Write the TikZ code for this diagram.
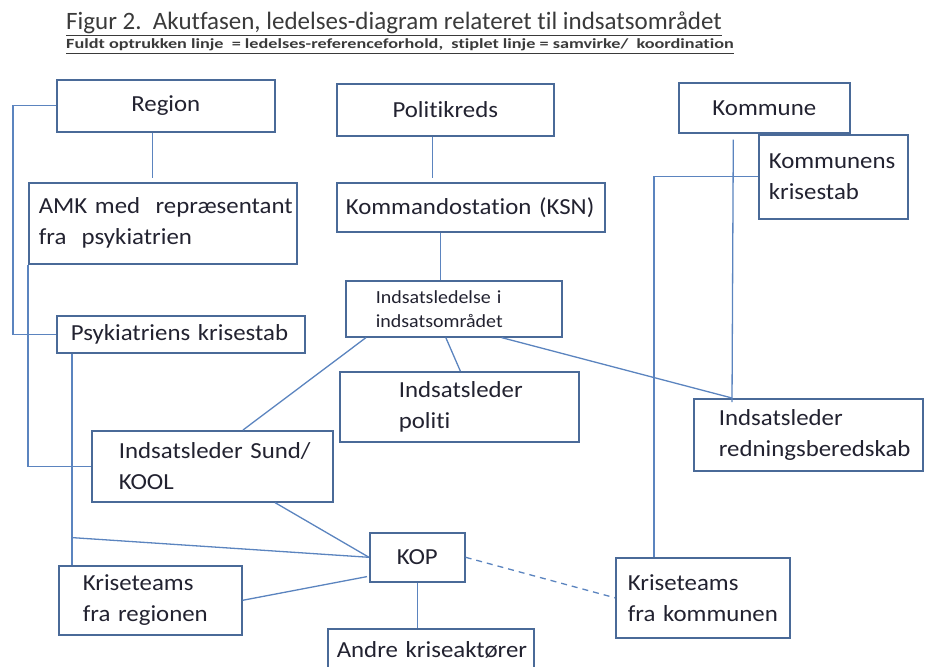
\documentclass[tikz,border=0pt]{standalone}
\usepackage{fontspec}
\setmainfont{Carlito}[FakeStretch=1.08,Ligatures=NoCommon]
\newfontfamily\titlefont{Carlito}[Ligatures=NoCommon]
\newfontfamily\legendfont{Carlito}[FakeStretch=1.3,Ligatures=NoCommon]
\usetikzlibrary{calc,positioning}

\definecolor{boxline}{HTML}{4A6A98}
\definecolor{linkline}{HTML}{5B84BF}
\definecolor{inkcol}{HTML}{222230}
\definecolor{titlecol}{HTML}{3A3A3A}

\begin{document}
\hyphenpenalty=10000 \exhyphenpenalty=10000 \hbadness=10000 \hfuzz=200pt
\begin{tikzpicture}[x=1pt,y=-1pt,
  box/.style={draw=boxline,line width=1.6pt,rectangle,anchor=north west,
    inner ysep=0pt,text=inkcol,font=\fontsize{23}{31}\selectfont},
  cbox/.style={box,inner xsep=0pt,align=center},
  lbox/.style={box,align=left},
  link/.style={draw=linkline,line width=1.3pt},
  coop/.style={link,dash pattern=on 6pt off 5pt}]
  \useasboundingbox (0,0) rectangle (925,666);
  \clip (0,0) rectangle (925,666);

  % titel
  \node[anchor=base west,inner sep=0pt,text=titlecol,font=\titlefont\fontsize{25}{28}\selectfont] (title) at (66,30)
    {\underline{Figur 2.\ \ Akutfasen, ledelses-diagram relateret til indsatsområdet}};
  \node[anchor=base west,inner sep=0pt,text=titlecol,font=\legendfont\bfseries\fontsize{14}{16}\selectfont] (legend) at (66,49)
    {\underline{Fuldt optrukken linje\ \ = ledelses-referenceforhold,\ \ stiplet linje = samvirke/\ \ koordination}};

  % region
  \node[cbox,minimum width=218,minimum height=52] (region) at (56,79) {Region};
  \node[lbox,minimum width=268,minimum height=81,inner xsep=10,text width=248] (amk) at (28,182)
    {\mbox{AMK med\ \ repræsentant}\\\mbox{fra\ \ psykiatrien}};
  \node[lbox,minimum width=248,minimum height=37,inner xsep=14,text width=220] (psyk) at (56,315)
    {\mbox{Psykiatriens krisestab}};

  % politi
  \node[cbox,minimum width=217,minimum height=52] (polit) at (336,83) {Politikreds};
  \node[lbox,minimum width=268,minimum height=49,inner xsep=9,text width=250] (ksn) at (336,182)
    {\mbox{Kommandostation (KSN)}};
  \node[lbox,minimum width=216,minimum height=56,inner xsep=30,text width=156,
    font=\fontsize{18.5}{24}\selectfont] (ledelse) at (345,280)
    {\mbox{Indsatsledelse i}\\\mbox{indsatsområdet}};
  \node[lbox,minimum width=239,minimum height=70,inner xsep=59,text width=121] (politi) at (339,371)
    {\mbox{Indsatsleder}\\\mbox{politi}};

  % kommune
  \node[cbox,minimum width=171,minimum height=50] (kommune) at (678,82) {Kommune};
  \node[lbox,minimum width=149,minimum height=84,inner xsep=10,text width=129] (kkstab) at (758,134)
    {\mbox{Kommunens}\\\mbox{krisestab}};
  \node[lbox,minimum width=229,minimum height=72,inner xsep=25,text width=179] (redning) at (693,398)
    {\mbox{Indsatsleder}\\\mbox{redningsberedskab}};

  % nederst
  \node[lbox,minimum width=241,minimum height=71,inner xsep=27,text width=187] (sund) at (91,430)
    {\mbox{Indsatsleder Sund/}\\\mbox{KOOL}};
  \node[cbox,minimum width=95,minimum height=49] (kop) at (369,532) {KOP};
  \node[lbox,minimum width=183,minimum height=69,inner xsep=24,text width=135] (kregion) at (58,565)
    {\mbox{Kriseteams}\\\mbox{fra regionen}};
  \node[lbox,minimum width=174,minimum height=80,inner xsep=12,text width=150] (kkommune) at (615,557)
    {\mbox{Kriseteams}\\\mbox{fra kommunen}};
  \node[lbox,minimum width=206,minimum height=42,inner xsep=9,text width=188] (andre) at (327,628)
    {\mbox{Andre kriseaktører}};

  % ledelseslinjer
  \draw[link] ($(region.south)+(-13,0)$) -- ($(region.south)+(-13,45)$);
  \draw[link] (region.west) -- ++(-43,0) |- (psyk.west);
  \draw[link] (amk.south west) |- (sund.west);
  \draw[link] ($(psyk.south west)+(16,0)$) -- ($(kregion.north west)+(14,0)$);
  \coordinate (psykjoin) at ($(psyk.south west)+(16,184)$);
  \draw[link] (psykjoin) -- (kop.west);
  \draw[link] ($(sund.south west)+(184,0)$) -- (kop.west);
  \draw[link] (kregion.east) -- ($(kop.south west)+(-2,-6)$);
  \draw[link] (kop.south) -- (kop.south |- andre.north);

  \draw[link] ($(polit.south)+(-13,0)$) -- ($(polit.south)+(-13,41)$);
  \draw[link] ($(ksn.south)+(-30,0)$) -- ($(ledelse.north)+(-13,0)$);
  \draw[link] ($(ledelse.south west)+(21,0)$) -- ($(sund.north west)+(152,0)$);
  \draw[link] ($(ledelse.south)+(-8,0)$) -- ($(politi.north)+(1,0)$);
  \draw[link] ($(ledelse.south east)+(-61,0)$) -- ($(redning.north west)+(39,0)$);

  \draw[link] ($(kommune.south)+(-31,6)$) -- ($(redning.north west)+(39,4)$);
  \draw[link] (kkstab.west) -| ($(kkommune.north west)+(39,0)$);

  % samvirke
  \draw[coop] (kop.east) -- (kkommune.west);
\end{tikzpicture}
\end{document}
